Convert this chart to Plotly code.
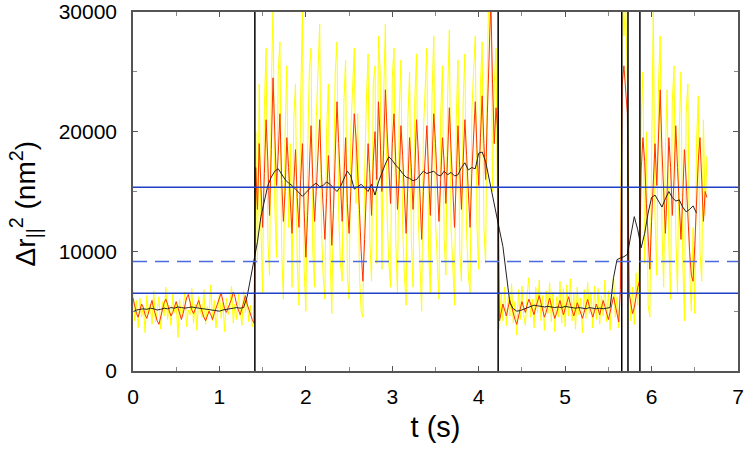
import numpy as np
import plotly.graph_objects as go

# sample grids (s)
t_raw = np.round(np.arange(333) * 0.02, 2)      # 0 .. 6.64
t_avg = np.round(np.arange(164) * 0.04, 2)      # 0 .. 6.52

# raw signal (yellow)
raw = [
    6800, 4200, 5900, 3600, 6100, 4500, 5400, 3200, 6300, 4800,
    5600, 3900, 6700, 4100, 5000, 6200, 3500, 5800, 4600, 7000,
    4300, 5500, 3800, 6400, 4900, 5700, 2800, 6000, 4400, 5300,
    6600, 3700, 5100, 4700, 6900, 4000, 5600, 3400, 6200, 5000,
    4500, 6800, 3900, 5400, 4800, 7200, 4200, 5900, 3600, 5100,
    6500, 4400, 5700, 3300, 6100, 4700, 5300, 7100, 4000, 5600,
    4300, 6400, 5000, 3800, 6700, 4900, 6000, 4100, 5500, 3700, 4200,
    20000, 9000, 24000, 12000, 6500, 22000, 27000, 11000, 8000, 23500,
    30500, 14000, 9500, 25000, 27500, 10000, 6000, 20000, 25500, 12000,
    19000, 7000, 21000, 24000, 9000, 5500, 22500, 30000, 8500, 5000,
    18000, 25000, 27000, 10000, 7000, 21000, 25500, 29000, 12000, 8000,
    6000, 20000, 24000, 9500, 4800, 17500, 25000, 27500, 13000, 9000,
    7500, 22500, 26000, 8000, 6000, 20000, 23500, 27000, 14000, 21500,
    8000, 5000, 4500, 16500, 22500, 26500, 11000, 7500, 24000, 25500,
    9000, 28000, 25000, 8500, 23000, 29000, 13000, 9000, 7000, 24500,
    27000, 11000, 6500, 21500, 26000, 12000, 8000, 5500, 21000, 25000,
    11000, 7000, 22500, 26500, 13000, 8000, 5000, 20000, 24000, 27000,
    10000, 6500, 23000, 28000, 12500, 9000, 6000, 21500, 25500, 11000,
    8000, 23000, 28500, 12000, 9000, 5500, 21000, 26000, 10000, 7500,
    22500, 26500, 11500, 8000, 6500, 21500, 25000, 28000, 12000, 8500,
    24000, 27500, 12000, 9000, 25500, 33000, 34000, 15000, 24000, 27000, 12000,
    3500, 6500, 4200, 7000, 3800, 6200, 4600, 7300, 4000, 5800,
    3000, 6800, 4300, 7100, 4700, 3800, 6400, 7800, 4500, 6000,
    3600, 7000, 4900, 7600, 4200, 6300, 3400, 6700, 4800, 7400,
    4100, 6600, 3300, 6200, 4500, 7500, 4000, 6900, 3700, 7200,
    4600, 7700, 4200, 6500, 3500, 7000, 4700, 6100, 3200, 6800,
    4400, 7400, 4800, 6600, 3600, 7100, 4300, 6900, 3900, 6300,
    4600, 7600, 4100, 6700, 3400, 6400, 7900, 4500, 6200, 3600, 8500,
    33000, 28000, 31000, 24000,
    8500, 4200, 7000, 3900, 8200, 5500, 9000,
    21000, 25000, 9000, 20000, 5500, 4500, 17500, 30500, 13000, 8000,
    24000, 28000, 12000, 7000, 18500, 23500, 10500, 6000, 22500, 25500,
    11500, 6500, 20000, 25000, 9500, 4200, 21500, 24000, 8500, 5000,
    12000, 4800, 19000, 23000, 10000, 7500, 21000, 13000, 18000,
]

# short average (red)
short_avg = [
    6100, 5400, 4800, 4500, 5000, 5600, 5300, 4700, 4400, 4900,
    5500, 5900, 5200, 4600, 4200, 3900, 4500, 5100, 5700, 6000,
    5600, 5000, 4600, 4900, 5400, 5800, 5300, 4700, 4300, 4800,
    5500, 6100, 6400, 5700, 5100, 4800, 5200, 5600, 5900, 5400,
    4900, 4500, 4200, 4600, 5000, 4700, 4300, 4800, 5300, 5700,
    6100, 6500, 5800, 5200, 4900, 5300, 5600, 6000, 6600, 6200,
    5500, 5000, 4700, 5200, 5800, 6300, 5600, 5100, 4600, 4300, 4000,
    17000, 13500, 19000, 15500, 12000, 16500, 21000, 17500, 13000, 18500,
    24500, 20000, 15500, 18000, 21500, 16000, 12500, 15000, 19500, 17000,
    14000, 11500, 15500, 18500, 14500, 12000, 16000, 19000, 13500, 9500,
    13000, 17500, 20500, 16000, 12500, 15000, 18500, 21000, 16500, 13000,
    11000, 14500, 18000, 15500, 10500, 13500, 17500, 22500, 19000, 15000,
    12500, 16000, 19500, 14000, 11500, 15000, 18000, 21500, 19500, 17000,
    13500, 10000, 7500, 11000, 15500, 19000, 16500, 13000, 17500, 20000,
    16000, 22500, 19500, 15000, 18500, 23500, 20000, 16500, 14000, 19000,
    21500, 17500, 13500, 16000, 20500, 18000, 14500, 11500, 15500, 19500,
    17000, 13500, 16500, 21000, 18500, 14500, 11000, 15000, 18000, 20500,
    16500, 13000, 17500, 21500, 19000, 15000, 12500, 16000, 19500, 17500,
    14000, 18000, 22000, 18500, 15500, 12000, 16000, 20500, 17000, 13500,
    17500, 21000, 18000, 14500, 12000, 16500, 20000, 22500, 18500, 15500,
    19500, 23000, 19000, 16000, 21500, 27000, 31000, 24000, 19000, 22000, 20000,
    4200, 4800, 5600, 5100, 4600, 5300, 5900, 5400, 4700, 4300,
    3900, 4500, 5200, 5800, 5300, 4900, 5500, 6000, 5600, 5100,
    4700, 5300, 5900, 6300, 5700, 5000, 4500, 4900, 5600, 6100,
    5500, 4900, 4400, 4800, 5400, 5900, 5300, 4700, 5200, 5800,
    6200, 5600, 5000, 4600, 5100, 5700, 5300, 4800, 4400, 4900,
    5500, 6000, 5400, 4900, 4500, 5000, 5600, 5200, 4700, 5300,
    5900, 5400, 4800, 4300, 4900, 5600, 6200, 5500, 4700, 4100, 6800,
    24000, 25500, 23000, 21500,
    6500, 5600, 4800, 5300, 6200, 7000, 7500,
    16800, 19500, 17500, 14000, 11000, 8500, 12500, 16500, 19000, 15500,
    20000, 23500, 18500, 14500, 11500, 15000, 19500, 17000, 13000, 16000,
    20500, 17000, 13500, 11000, 14500, 18500, 16000, 12500, 10000, 8000,
    7500, 10500, 14500, 17500, 19500, 16000, 12500, 15000, 14500,
]

# long running average (black)
long_avg = [
    4950, 5100, 5150, 5200, 5150, 5250, 5200, 5100, 5150, 5250,
    5200, 5300, 5250, 5350, 5300, 5250, 5300, 5350, 5300, 5250,
    5200, 5150, 5100, 5050, 5000, 5000, 5100, 5150, 5200, 5250,
    5300, 5250, 5300, 6200, 7800, 9200, 10800, 12900, 14200, 15500,
    16200, 16700, 16900, 16400, 16000, 15700, 15500, 15200, 14900, 14600,
    14900, 15200, 15500, 15700, 15400, 15500, 15800, 15600, 15300, 15000,
    15400, 16000, 16700, 16300, 15200, 15400, 15600, 15300, 15000, 15600,
    14700, 15800, 16600, 17300, 17900, 17600, 17200, 16900, 16500, 16200,
    16100, 15900, 16000, 16400, 16700, 16500, 16600, 16700, 16400, 16300,
    16700, 16400, 16600, 16300, 16400, 17000, 17400, 16800, 17000, 16900,
    18200, 18300, 17500, 16000, 14500, 13000, 11800, 10400, 8200, 5700,
    5200, 5000, 5050, 5150, 5250, 5400, 5500, 5450, 5400, 5350,
    5400, 5350, 5300, 5350, 5300, 5400, 5350, 5300, 5250, 5300,
    5250, 5200, 5300, 5250, 5200, 5250, 5200, 5250, 5300, 7800,
    9300, 9450, 9550, 9750, 11300, 12900, 11800, 10300, 11500, 13200,
    14500, 14700, 14200, 13700, 14400, 15000, 14500, 14200, 14300, 13700,
    13300, 13500, 13800, 13200,
]

# state boundaries (s) and reference levels (nm^2)
switch_times = [1.41, 4.225, 5.655, 5.727, 5.865]
upper_level = 15350
lower_level = 6500
threshold = 9150

FONT = "Liberation Sans, Arial, sans-serif"

fig = go.Figure()
fig.add_trace(go.Scatter(x=t_raw, y=raw, mode="lines",
                         line=dict(color="#ffff00", width=1)))
fig.add_trace(go.Scatter(x=t_raw, y=short_avg, mode="lines",
                         line=dict(color="#ff3300", width=1)))
fig.add_trace(go.Scatter(x=t_avg, y=long_avg, mode="lines",
                         line=dict(color="#222222", width=1)))

for ts in switch_times:
    fig.add_vline(x=ts, line=dict(color="black", width=1.5))
for lvl in [upper_level, lower_level]:
    fig.add_hline(y=lvl, line=dict(color="#1f3fc4", width=1.5))
fig.add_hline(y=threshold, line=dict(color="#4a6ae0", width=1.5, dash="14px,8px"))

axis_common = dict(
    showgrid=False, zeroline=False, ticks="inside", ticklen=5, automargin=False,
    tickcolor="#555555", linecolor="#555555", linewidth=1.5, mirror="allticks",
    tickfont=dict(family=FONT, size=21, color="black"),
    tickformat="d", ticklabeloverflow="allow",
)

fig.update_xaxes(range=[0, 7], dtick=1, ticklabelstandoff=6,
                 minor=dict(dtick=0.5, ticks="inside", ticklen=4, tickcolor="#888888"),
                 title=dict(text="t (s)", standoff=10,
                            font=dict(family=FONT, size=29, color="black")),
                 **axis_common)
fig.update_yaxes(range=[0, 30000], dtick=10000, ticklabelstandoff=10,
                 minor=dict(dtick=5000, ticks="inside", ticklen=4, tickcolor="#888888"),
                 **axis_common)

# y-axis label, placed by hand to sit where the original puts it
fig.add_annotation(
    text="Δr<sub>||</sub><sup>2</sup> (nm<sup>2</sup>)",
    xref="paper", yref="paper", x=-0.178, y=0.465,
    xanchor="center", yanchor="middle", textangle=-90, showarrow=False,
    font=dict(family=FONT, size=28, color="black"),
)

fig.update_layout(
    width=747, height=450,
    margin=dict(l=133, r=8.5, t=12, b=79),
    plot_bgcolor="white", paper_bgcolor="white",
    showlegend=False,
)

# drop the browser's default body margin so the figure fills the window
fig.write_html("out.html", config={"displayModeBar": False},
               post_script="document.body.style.margin='0';")
